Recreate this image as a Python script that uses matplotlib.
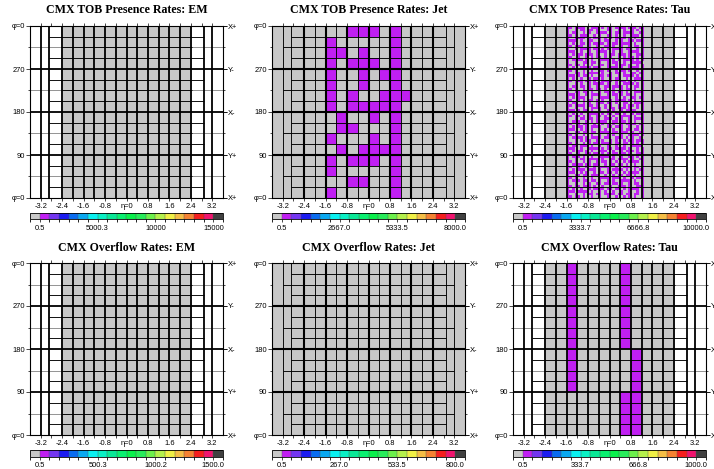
import numpy as np
import matplotlib
matplotlib.use("Agg")
import matplotlib.pyplot as plt
from matplotlib.colors import ListedColormap, BoundaryNorm
from matplotlib.cm import ScalarMappable

W, H, DPI = 714, 469, 100

# ---------------- data ----------------
titles = [["CMX TOB Presence Rates: EM", "CMX TOB Presence Rates: Jet", "CMX TOB Presence Rates: Tau"],
          ["CMX Overflow Rates: EM", "CMX Overflow Rates: Jet", "CMX Overflow Rates: Tau"]]
scale_max = [[15000.0, 8000.0, 10000.0], [1500.0, 800.0, 1000.0]]
scale_labels = [[["0.5", "5000.3", "10000", "15000"], ["0.5", "2667.0", "5333.5", "8000.0"],
                 ["0.5", "3333.7", "6666.8", "10000.0"]],
                [["0.5", "500.3", "1000.2", "1500.0"], ["0.5", "267.0", "533.5", "800.0"],
                 ["0.5", "333.7", "666.8", "1000.0"]]]
scale_colors = ["#c8c8c8", "#c01ff2", "#7436f0", "#1c1cf0", "#0a6cf0", "#0aa8f0", "#0af0f0",
                "#0af0c4", "#0ae896", "#0af070", "#0af04c", "#28ec5a", "#6cf04c", "#b4f04c",
                "#f0f046", "#f5be46", "#f58232", "#f51e1e", "#f0146e", "#404040"]

eta_ticks = [-3.2, -2.4, -1.6, -0.8, 0.0, 0.8, 1.6, 2.4, 3.2]
eta_tick_labels = ["-3.2", "-2.4", "-1.6", "-0.8", "η=0", "0.8", "1.6", "2.4", "3.2"]
phi_ticks = [0, 90, 180, 270, 360]
phi_left_labels = ["φ=0", "90", "180", "270", "φ=0"]
phi_right_labels = ["X+", "Y+", "X-", "Y-", "X+"]

# CPM (EM / Tau) coarse bins: eta edges and 16 phi rows of 22.5 deg (rows listed phi 360 -> 0)
cpm_eta_edges = [-2.45, -2.4, -2.0, -1.6, -1.2, -0.8, -0.4, 0.0, 0.4, 0.8, 1.2, 1.6, 2.0, 2.4, 2.45]
em_presence = ["." * 14] * 16
em_overflow = ["." * 14] * 16
tau_overflow = ["...#....#....."] * 8 + ["...#.....#...."] * 4 + ["........##...."] * 4

# Jet bins: eta edges and 16 phi rows of 22.5 deg (rows phi 360 -> 0)
jet_eta_edges = [-4.9, -3.2, -2.9, -2.4, -2.0, -1.6, -1.2, -0.8, -0.4, 0.0,
                 0.4, 0.8, 1.2, 1.6, 2.0, 2.4, 2.9, 3.2, 4.9]
jet_presence = [
    ".......###.#......",
    ".....#.....#......",
    ".....##.#..#......",
    ".....#.###.#......",
    ".....#..#.##......",
    ".....#..#..#......",
    ".....#.#..###.....",
    ".....#.#####......",
    "......#..#.#......",
    "......##...#......",
    ".....#...#.#......",
    "......#.####......",
    ".....#.###.#......",
    ".....#.....#......",
    ".......##..#......",
    ".....#.....#......",
]
jet_overflow = ["." * 18] * 16

# Tau presence fine bins: eta -1.6 .. 1.4 in 0.1 steps (30 cols), 64 phi rows of 5.625 deg (phi 360 -> 0)
tau_fine_eta_edges = [round(-1.6 + 0.1 * i, 1) for i in range(31)]
tau_presence = [
    "##.####..###.#.##.####.###.##.",
    "#..#.##.##.#...##..#.#..#.#.#.",
    "#.##..#.#..####.#.##.####..##.",
    "##.#.###..#.#..##.#..#..###.#.",
    "#..####.#.###.#.#.####.#.#..#.",
    "####.#..##..#.##..#.#..##.###.",
    "#.#..##.#.####.#.##.####.#..#.",
    "##.###..#..#..##.#..#..#.##.#.",
    "#..#.####.##.#.#.####.##..#.#.",
    "###..#..#..####..#..#..####.#.",
    "#.#.##.###.#..#.##.###.#..###.",
    "##..#..#.#.##.#.#..#.#.##.#.#.",
    "#.####.#.#..####.#.#.####.#.#.",
    "#..#..##.##.#..#.##..#..####..",
    "##.##.#..#..##.#..#.##.#..#.#.",
    "#.#..####.###..####.#..####.#.",
    "##.#..#..#..##.#..#.##.#..#.#.",
    "#..##.#.####.#..#.##.#..##.##.",
    "###.#.##.#..##.##..#.####.#.#.",
    "#.#..#..#.##.#..#.##..#..####.",
    "##.###.##.#..####.#.##.#.#..#.",
    "#..#.#..#.####.#..#..####.#.#.",
    "#.##.##.#..#..##.####.#..##.#.",
    "##.#..#.##.##.#..#..#.##.#..#.",
    "#..##.##.#..#.##.#.##.#..####.",
    "###.#..#.####..#.##.#.##.#..#.",
    "#.#.###..#..####..#..#..##.##.",
    "##..#.#.##.#.#..#.####.#.#..#.",
    "#.##..#.#..###.##.#..##..####.",
    "##.####.##.#..#.#..#.#.##.#.#.",
    "#..#..#..####.#.##.###.#..#.#.",
    "###.#.##.#..#..#.#..#.####..#.",
    "#.#..#..####.#.##.##.#..#.###.",
    "##.##.#.#..##.#..#..####.#..#.",
    "#..#.##.##.#..###.#.#..#.####.",
    "#.###..#.#.####..##.##.#.#..#.",
    "##..#.##..#..#.#.#..#.####.##.",
    "#.#.##.#.####..##.###..#..#.#.",
    "###..#.#.#..#.#..#..#.##.##.#.",
    "#..##.##.##.####.##.###.#..##.",
    "##.#..#..#..#..#.#..#..####.#.",
    "#.####.#.####.##..###.#.#..#..",
    "#..#.#.##..#.#..#.#..#.##.###.",
    "##.#..#.#.##.####.##.##.#.#.#.",
    "#.##.###.#..#..#..#..#..####..",
    "###..#..####.#.##.####.#..#.#.",
    "#.#.##.#.#..###..#..#.###.#.#.",
    "##..#..##.##.#.#.##.##.#..###.",
    "#.###.#..#..####.#..#..##.#.#.",
    "#..#.##.####.#..##.####.#..##.",
    "##.#..#.#..#.##.#.#..#.####.#.",
    "#.####.##.##..#.##.##.#..#..#.",
    "##..#..#..#.####..#..###.##.#.",
    "#.#.###.###.#..#.####.#..#.##.",
    "###..#.#..#.##.##.#..#.####.#.",
    "#..##.##.###..#..#.##.##.#..#.",
    "##.#..#..#..####.###.#..#.###.",
    "#.###.##.##.#..#.#..####.#..#.",
    "#..#..#.#..##.##.##.#..#.##.#.",
    "##.##.###.#..#..#..###.#..###.",
    "#.#..#..#.####.##.##.#.####.#.",
    "###.####.#..#.#..#..#..#..#.#.",
    "#..#..#.##.##.####.##.##.##.#.",
    "##.##.#..#..#..#..#..#.#.#..#.",
]

hit_rate = [[0.0, 150.0, 200.0], [0.0, 0.0, 20.0]]   # rate of the purple (lowest band) cells

# ---------------- styling ----------------
LW_THICK = 1.3
LW_THIN = 0.65
TICK_FS = 5.4
cmap = ListedColormap(scale_colors)

panel_left_px = [30, 272, 513]
panel_top_px = [26, 263]
panel_w_px, panel_h_px = 193, 172
cbar_top_px = [213, 450]
cbar_h_px = 6.5
title_y_px = [10, 248]
XMIN, XMAX = -3.6, 3.6

fig = plt.figure(figsize=(W / DPI, H / DPI), dpi=DPI)
fig.patch.set_facecolor("white")


def rect(x0, y0, w, h):
    return [x0 / W, 1 - (y0 + h) / H, w / W, h / H]


def grid_values(rows, rate):
    return np.array([[rate if ch == "#" else 0.0 for ch in r] for r in rows])


def draw_cpm_grid(ax):
    for p in [45, 135, 225, 315]:
        ax.hlines(p, XMIN, XMAX, color="#8c8c8c", lw=LW_THIN, zorder=3)
        ax.hlines(p, -2.45, 2.45, color="k", lw=LW_THIN, zorder=3)
    for p in [22.5, 67.5, 112.5, 157.5, 202.5, 247.5, 292.5, 337.5]:
        ax.hlines(p, -2.9, 2.9, color="k", lw=LW_THIN, zorder=3)
    for p in [90, 180, 270]:
        ax.axhline(p, color="k", lw=LW_THICK, zorder=4)
    for e in [-3.2, -2.9] + [round(-2.4 + 0.4 * i, 1) for i in range(13)] + [2.9, 3.2]:
        ax.axvline(e, color="k", lw=LW_THICK, zorder=4)


def draw_jet_grid(ax):
    for p in [45, 135, 225, 315]:
        ax.hlines(p, -3.2, 3.2, color="k", lw=LW_THIN, zorder=3)
    for p in [22.5, 67.5, 112.5, 157.5, 202.5, 247.5, 292.5, 337.5]:
        ax.hlines(p, -2.9, 2.9, color="k", lw=LW_THIN, zorder=3)
    for p in [90, 180, 270]:
        ax.axhline(p, color="k", lw=LW_THICK + 0.2, zorder=4)
    for e in [-3.2, -2.9, -2.0, -1.2, -0.4, 0.4, 1.2, 2.0, 2.9, 3.2]:
        ax.axvline(e, color="k", lw=LW_THIN, zorder=3)
    for e in [-2.4, -1.6, -0.8, 0.0, 0.8, 1.6, 2.4]:
        ax.axvline(e, color="k", lw=LW_THICK + 0.2, zorder=4)


for r in range(2):
    for c in range(3):
        vmax = scale_max[r][c]
        step = (vmax - 0.5) / 18.0
        bounds = [0.5 + step * (k - 1) for k in range(21)]
        norm = BoundaryNorm(bounds, cmap.N)

        ax = fig.add_axes(rect(panel_left_px[c], panel_top_px[r], panel_w_px, panel_h_px))
        ax.set_xlim(XMIN, XMAX)
        ax.set_ylim(0, 360)
        ax.set_facecolor("white")

        if c == 0:
            rows = em_presence if r == 0 else em_overflow
            vals = grid_values(rows, hit_rate[r][c])
            ax.pcolormesh(cpm_eta_edges, np.linspace(360, 0, len(rows) + 1), vals,
                          cmap=cmap, norm=norm, zorder=1)
            draw_cpm_grid(ax)
        elif c == 1:
            rows = jet_presence if r == 0 else jet_overflow
            vals = grid_values(rows, hit_rate[r][c])
            ax.pcolormesh(jet_eta_edges, np.linspace(360, 0, len(rows) + 1), vals,
                          cmap=cmap, norm=norm, zorder=1)
            draw_jet_grid(ax)
        else:
            if r == 0:
                base = grid_values(em_presence, 0.0)
                ax.pcolormesh(cpm_eta_edges, np.linspace(360, 0, 17), base,
                              cmap=cmap, norm=norm, zorder=1)
                vals = grid_values(tau_presence, hit_rate[r][c])
                masked = np.ma.masked_where(vals == 0, vals)
                ax.pcolormesh(tau_fine_eta_edges, np.linspace(360, 0, len(tau_presence) + 1),
                              masked, cmap=cmap, norm=norm, zorder=2)
            else:
                vals = grid_values(tau_overflow, hit_rate[r][c])
                ax.pcolormesh(cpm_eta_edges, np.linspace(360, 0, len(tau_overflow) + 1), vals,
                              cmap=cmap, norm=norm, zorder=1)
            draw_cpm_grid(ax)

        for s in ax.spines.values():
            s.set_linewidth(0.8)
            s.set_zorder(6)

        ax.set_xticks(eta_ticks)
        ax.set_xticklabels(eta_tick_labels, fontsize=TICK_FS, family="Liberation Sans")
        ax.set_xticks([round(-3.2 + 0.4 * i, 1) for i in range(17)], minor=True)
        ax.tick_params(axis="x", which="both", direction="out", top=True, bottom=True,
                       length=2.3, width=0.5, pad=1.2)
        ax.set_yticks(phi_ticks)
        ax.set_yticklabels(phi_left_labels, fontsize=TICK_FS, family="Liberation Sans")
        ax.set_yticks([45, 135, 225, 315], minor=True)
        ax.tick_params(axis="y", which="major", direction="out", left=True, right=True,
                       length=2.8, width=0.5, pad=1.0)
        ax.tick_params(axis="y", which="minor", direction="out", left=True, right=True,
                       length=1.6, width=0.5)
        axr = ax.secondary_yaxis("right")
        axr.set_yticks(phi_ticks)
        axr.set_yticklabels(phi_right_labels, fontsize=TICK_FS, family="Liberation Sans")
        axr.tick_params(length=2.8, width=0.5, pad=1.0)
        axr.spines["right"].set_visible(False)

        fig.text((panel_left_px[c] + panel_w_px / 2) / W, 1 - title_y_px[r] / H, titles[r][c],
                 ha="center", va="center", fontsize=8.6, fontweight="bold",
                 family="Liberation Serif")

        cax = fig.add_axes(rect(panel_left_px[c], cbar_top_px[r], panel_w_px, cbar_h_px))
        sm = ScalarMappable(norm=norm, cmap=cmap)
        cb = fig.colorbar(sm, cax=cax, orientation="horizontal", boundaries=bounds,
                          spacing="uniform", drawedges=True)
        cb.set_ticks([bounds[1], bounds[7], bounds[13], bounds[19]])
        cb.set_ticklabels(scale_labels[r][c])
        cb.outline.set_linewidth(0.6)
        cb.dividers.set_linewidth(0.3)
        cb.dividers.set_color("#555555")
        cax.tick_params(labelsize=TICK_FS, length=2.2, width=0.5, pad=1.5)
        for lab in cax.get_xticklabels():
            lab.set_family("Liberation Sans")

fig.savefig("out.png", dpi=DPI, facecolor="white")
